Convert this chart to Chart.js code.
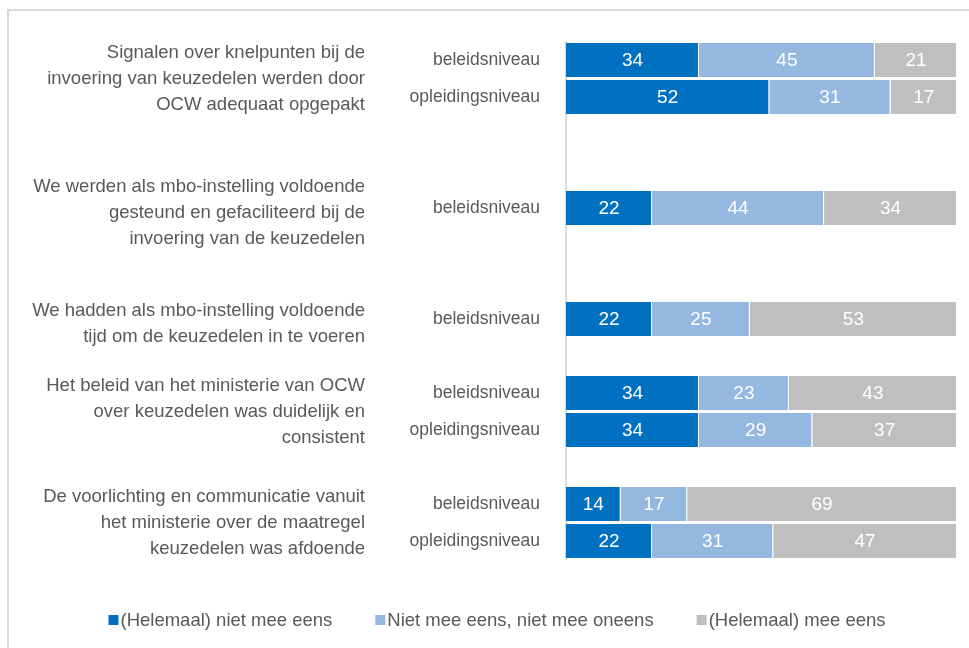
<!DOCTYPE html>
<html>
<head>
<meta charset="utf-8">
<script src="https://cdn.jsdelivr.net/npm/chart.js@4/dist/chart.umd.min.js"></script>
<style>
  html, body { margin: 0; padding: 0; background: #ffffff; }
  canvas { display: block; }
</style>
</head>
<body>
<canvas id="c" width="969" height="648"></canvas>
<script>
// ---- data ----
const rowLabels = ['beleidsniveau','opleidingsniveau','','','beleidsniveau','','','beleidsniveau','','beleidsniveau','opleidingsniveau','','beleidsniveau','opleidingsniveau'];
const seriesNames = ['(Helemaal) niet mee eens','Niet mee eens, niet mee oneens','(Helemaal) mee eens'];
const disagreeValues = [34,52,null,null,22,null,null,22,null,34,34,null,14,22];
const neutralValues  = [45,31,null,null,44,null,null,25,null,23,29,null,17,31];
const agreeValues    = [21,17,null,null,34,null,null,53,null,43,37,null,69,47];
const groupLabels = [
  ['Signalen over knelpunten bij de','invoering van keuzedelen werden door','OCW adequaat opgepakt'],
  ['We werden als mbo-instelling voldoende','gesteund en gefaciliteerd bij de','invoering van de keuzedelen'],
  ['We hadden als mbo-instelling voldoende','tijd om de keuzedelen in te voeren'],
  ['Het beleid van het ministerie van OCW','over keuzedelen was duidelijk en','consistent'],
  ['De voorlichting en communicatie vanuit','het ministerie over de maatregel','keuzedelen was afdoende']
];
const groupRows = [[0,1],[4,4],[7,7],[9,10],[12,13]];

// ---- styles ----
const colors = ['#0070C0','#95B8E1','#BFBFBF'];
const textColor = '#595959';
const FONT = '"Liberation Sans", Arial, sans-serif';

const framePlugin = {
  id: 'frame',
  beforeDraw(chart) {
    const ctx = chart.ctx;
    ctx.save();
    ctx.fillStyle = '#ffffff';
    ctx.fillRect(0, 0, chart.width, chart.height);
    ctx.strokeStyle = '#d9d9d9';
    ctx.lineWidth = 2;
    ctx.beginPath();
    ctx.moveTo(8, chart.height + 5);
    ctx.lineTo(8, 10);
    ctx.lineTo(chart.width + 5, 10);
    ctx.stroke();
    ctx.restore();
  }
};

const valueLabels = {
  id: 'valueLabels',
  afterDatasetsDraw(chart) {
    const ctx = chart.ctx;
    ctx.save();
    ctx.font = '19px ' + FONT;
    ctx.fillStyle = '#ffffff';
    ctx.textAlign = 'center';
    ctx.textBaseline = 'middle';
    chart.data.datasets.forEach((ds, di) => {
      const meta = chart.getDatasetMeta(di);
      meta.data.forEach((el, i) => {
        const v = ds.data[i];
        if (v === null || v === undefined) return;
        const p = el.getProps(['x','y','base'], true);
        ctx.fillText(String(v), (p.x + p.base) / 2, p.y + 1);
      });
    });
    ctx.restore();
  }
};

const groupText = {
  id: 'groupText',
  afterDraw(chart) {
    const ctx = chart.ctx;
    const ys = chart.scales.y;
    ctx.save();
    ctx.font = '18.5px ' + FONT;
    ctx.fillStyle = textColor;
    ctx.textAlign = 'right';
    ctx.textBaseline = 'middle';
    const lineH = 26;
    groupLabels.forEach((lines, g) => {
      const r = groupRows[g];
      let cy = (ys.getPixelForValue(r[0]) + ys.getPixelForValue(r[1])) / 2;
      if (r[0] === r[1]) cy += 5;
      const y0 = cy - (lines.length - 1) * lineH / 2;
      lines.forEach((t, k) => ctx.fillText(t, 365, y0 + k * lineH));
    });
    ctx.restore();
  }
};

const customLegend = {
  id: 'customLegend',
  afterDraw(chart) {
    const ctx = chart.ctx;
    ctx.save();
    ctx.font = '18.5px ' + FONT;
    ctx.textBaseline = 'middle';
    ctx.textAlign = 'left';
    const box = 10, gap = 2, spacing = 43;
    const items = chart.data.datasets.map(d => ({ text: d.label, color: d.backgroundColor, w: ctx.measureText(d.label).width }));
    const total = items.reduce((s, it) => s + box + gap + it.w, 0) + spacing * (items.length - 1);
    let x = 497 - total / 2;
    const y = 620;
    items.forEach(it => {
      ctx.fillStyle = it.color;
      ctx.fillRect(x, y - box / 2, box, box);
      ctx.fillStyle = textColor;
      ctx.fillText(it.text, x + box + gap, y + 1);
      x += box + gap + it.w + spacing;
    });
    ctx.restore();
  }
};

const valueSets = [disagreeValues, neutralValues, agreeValues];
new Chart(document.getElementById('c'), {
  type: 'bar',
  data: {
    labels: rowLabels,
    datasets: valueSets.map((vals, i) => ({
      label: seriesNames[i],
      data: vals,
      backgroundColor: colors[i],
      borderColor: '#ffffff',
      borderWidth: { right: 1, left: 0, top: 0, bottom: 0 },
      borderSkipped: false,
      categoryPercentage: 1,
      barPercentage: 34 / 37
    }))
  },
  options: {
    indexAxis: 'y',
    responsive: false,
    animation: false,
    layout: { padding: { left: 0, right: 12, top: 41.5, bottom: 88.5 } },
    plugins: {
      legend: { display: false },
      tooltip: { enabled: false }
    },
    scales: {
      x: { stacked: true, min: 0, max: 100, display: false },
      y: {
        stacked: true,
        grid: { display: false, drawTicks: false },
        border: { display: true, color: '#d9d9d9', width: 2 },
        ticks: { color: textColor, font: { family: FONT, size: 17.5 }, padding: 26, autoSkip: false },
        afterFit(scale) { scale.width = 566; }
      }
    }
  },
  plugins: [framePlugin, valueLabels, groupText, customLegend]
});
</script>
</body>
</html>
